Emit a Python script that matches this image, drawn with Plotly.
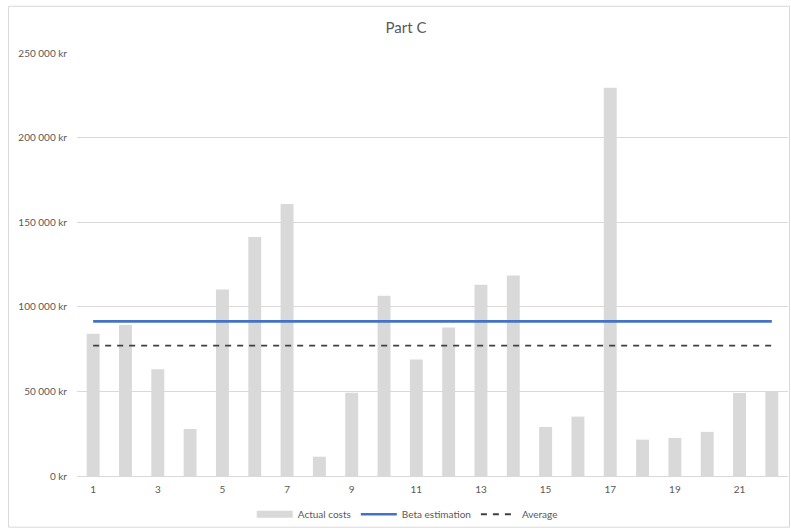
import plotly.graph_objects as go

# Project number on the category axis
projects = list(range(1, 23))

# Actual cost per project (kr)
actual_costs = [84000, 89200, 63100, 27800, 110200, 141200, 160800, 11400,
                49200, 106600, 68800, 87800, 113100, 118500, 29000, 35100,
                229400, 21500, 22500, 26100, 49000, 50000]

# Beta-distribution estimate and the plain average (kr)
beta_estimation = 91400
average_cost = 77000

tick_projects = [1, 3, 5, 7, 9, 11, 13, 15, 17, 19, 21]
y_ticks = [0, 50000, 100000, 150000, 200000, 250000]
y_tick_text = ["0 kr", "50 000 kr", "100 000 kr", "150 000 kr",
               "200 000 kr", "250 000 kr"]

font_family = "Lato, 'Noto Sans', sans-serif"
text_grey = "#595959"
bar_grey = "#d9d9d9"

fig = go.Figure()

fig.add_trace(go.Bar(
    x=projects, y=actual_costs, name="Actual costs", showlegend=False,
    marker=dict(color=bar_grey, line=dict(width=0)),
))
# Wide flat swatch for the bar series in the legend
fig.add_trace(go.Scatter(
    x=[None], y=[None], mode="lines", name="Actual costs",
    line=dict(color=bar_grey, width=7),
))
fig.add_trace(go.Scatter(
    x=[projects[0], projects[-1]], y=[beta_estimation, beta_estimation],
    mode="lines", name="Beta estimation",
    line=dict(color="#4472c4", width=2.6),
))
fig.add_trace(go.Scatter(
    x=[projects[0], projects[-1]], y=[average_cost, average_cost],
    mode="lines", name="Average",
    line=dict(color="#404040", width=1.8, dash="6px,6px"),
))

# Plot area geometry in pixels
L, R, T, B = 76.5, 3, 53, 53.5
W, H = 791, 532
pw, ph = W - L - R, H - T - B

def px_x(x):
    return (x - L) / pw

def px_y(y):
    return (T + ph - y) / ph

fig.update_layout(
    width=W, height=H,
    margin=dict(l=L, r=R, t=T, b=B),
    paper_bgcolor="white", plot_bgcolor="white",
    bargap=0.6,
    font=dict(family=font_family, color=text_grey, size=10),
    title=dict(text="Part C", x=406 / W, xanchor="center", xref="container",
               y=1 - 28 / H, yanchor="middle",
               font=dict(size=15, color=text_grey, family=font_family)),
    showlegend=True,
    legend=dict(orientation="h", x=px_x(407), xanchor="center",
                y=px_y(517), yanchor="middle",
                font=dict(size=10, color=text_grey),
                itemwidth=36, bgcolor="rgba(0,0,0,0)"),
    xaxis=dict(
        range=[0.5, 22.5], tickmode="array", tickvals=tick_projects,
        ticktext=[str(t) for t in tick_projects],
        showgrid=False, zeroline=False,
        showline=True, linecolor=bar_grey, linewidth=1,
        ticks="", ticklabelstandoff=4,
        tickfont=dict(size=10, color=text_grey),
    ),
    yaxis=dict(
        range=[0, 250000], tickmode="array", tickvals=y_ticks,
        ticktext=y_tick_text,
        showgrid=True, gridcolor=bar_grey, gridwidth=1,
        zeroline=False, showline=False, ticks="",
        ticklabelstandoff=9,
        tickfont=dict(size=10, color=text_grey),
    ),
    shapes=[dict(
        type="rect", xref="paper", yref="paper",
        x0=px_x(8), x1=px_x(789.5), y0=px_y(530), y1=px_y(6),
        line=dict(color=bar_grey, width=1), layer="below",
    )],
)

fig.write_html("out.html")
